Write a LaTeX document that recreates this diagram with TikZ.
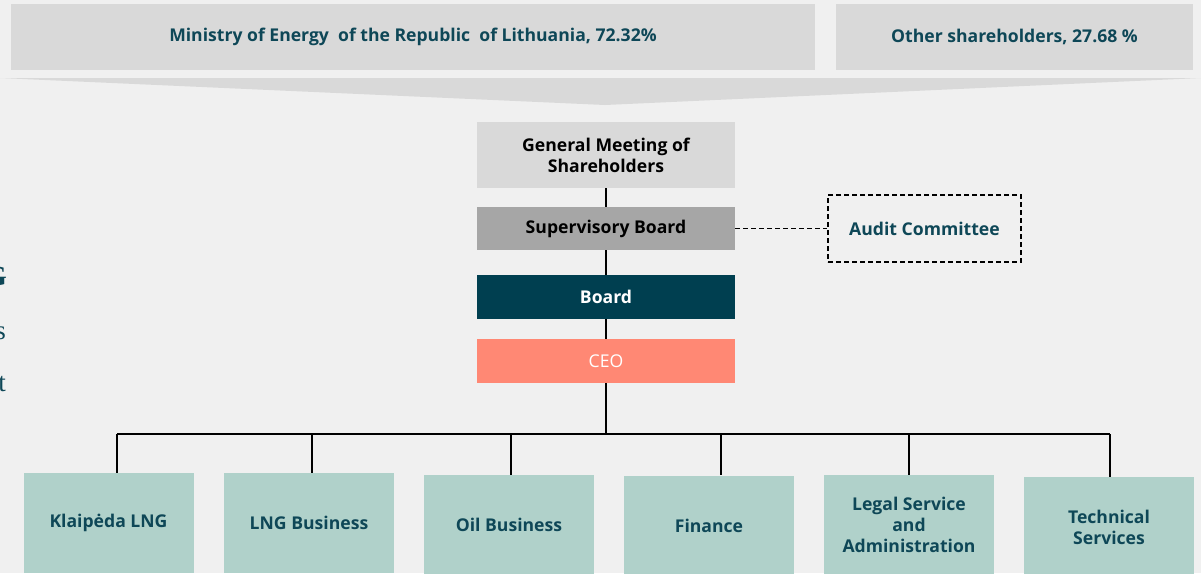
\documentclass[tikz,border=0pt]{standalone}
\usepackage{fontspec}
\setmainfont{Open Sans}[BoldFont={Open Sans Bold}]
\newfontfamily\serifpart{Liberation Serif}
\definecolor{bgc}{HTML}{F0F0F0}
\definecolor{bannerc}{HTML}{D9D9D9}
\definecolor{tealtext}{HTML}{0E4757}
\definecolor{supc}{HTML}{A6A6A6}
\definecolor{boardc}{HTML}{003F50}
\definecolor{ceoc}{HTML}{FF8874}
\definecolor{unitc}{HTML}{B0D1CA}
\tikzset{
  box/.style={draw=none, inner sep=0pt, align=center, font=\bfseries\fontsize{17.6}{21}\selectfont},
  banner/.style={box, fill=bannerc, text=tealtext},
  unit/.style={box, fill=unitc, text=tealtext, minimum width=170pt, minimum height=100pt},
  link/.style={draw=black, line width=1.4pt},
  dashlink/.style={draw=black, line width=1.5pt, dash pattern=on 5pt off 3pt},
}
\begin{document}
\begin{tikzpicture}[x=1pt,y=-1pt]
\useasboundingbox (0,0) rectangle (1201,573);
\fill[bgc] (0,0) rectangle (1201,573);
\clip (0,0) rectangle (1201,573);
% left cut fragments
\node[anchor=base east, inner sep=0pt, text=tealtext, font=\serifpart\bfseries\fontsize{28}{30}\selectfont] (fragG) at (7,285) {LNG};
\node[anchor=base east, inner sep=0pt, text=tealtext, font=\serifpart\fontsize{27}{30}\selectfont] (fragS) at (6,339) {as};
\node[anchor=base east, inner sep=0pt, text=tealtext, font=\serifpart\fontsize{27}{30}\selectfont] (fragT) at (6,391) {ent};
% banners
\node[banner, minimum width=804pt, minimum height=66pt] (ministry) at (413,37) {Ministry of Energy\ \ of the Republic\ \ of Lithuania, 72.32\%};
\node[banner, minimum width=357pt, minimum height=66pt] (other) at (1014.5,37) {Other shareholders, 27.68 \%};
% chevron
\fill[bannerc] (0,78) -- (1201,78) -- (605,105) -- cycle;
% governance
\node[box, fill=bannerc, text=black, minimum width=258pt, minimum height=66pt] (gms) at (606,155) {General Meeting of\\Shareholders};
\node[box, fill=supc, text=black, minimum width=258pt, minimum height=43pt] (sup) at (606,228.5) {Supervisory Board};
\node[box, dashlink, text=tealtext, minimum width=193pt, minimum height=67pt] (audit) at (924.5,228.5) {Audit Committee};
\node[box, fill=boardc, text=white, minimum width=258pt, minimum height=44pt] (board) at (606,297) {Board};
\node[box, fill=ceoc, text=white, font=\fontsize{17.6}{21}\selectfont, minimum width=258pt, minimum height=44pt] (ceo) at (606,361) {CEO};
\draw[link] (gms) -- (sup);
\draw[link] (sup) -- (board);
\draw[link] (board) -- (ceo);
\draw[dashlink] (sup.east) -- (audit.west);
% units
\node[unit] (u1) at (108.5,523) {Klaipėda LNG};
\node[unit] (u2) at (309,523) {LNG Business};
\node[unit] (u3) at (509,525) {Oil Business};
\node[unit] (u4) at (709,525.5) {Finance};
\node[unit] (u5) at (909,525) {Legal Service\\and\\Administration};
\node[unit] (u6) at (1109,527) {Technical\\Services};
\coordinate (bus) at (606,434);
\draw[link] (ceo.south) -- (bus);
\draw[link] (117,434) -- (1110,434);
\draw[link] (117,434) -- (u1.north -| 117,0);
\draw[link] (312,434) -- (u2.north -| 312,0);
\draw[link] (511,434) -- (u3.north -| 511,0);
\draw[link] (721,434) -- (u4.north -| 721,0);
\draw[link] (909,434) -- (u5.north);
\draw[link] (1110,434) -- (u6.north -| 1110,0);
\end{tikzpicture}
\end{document}
